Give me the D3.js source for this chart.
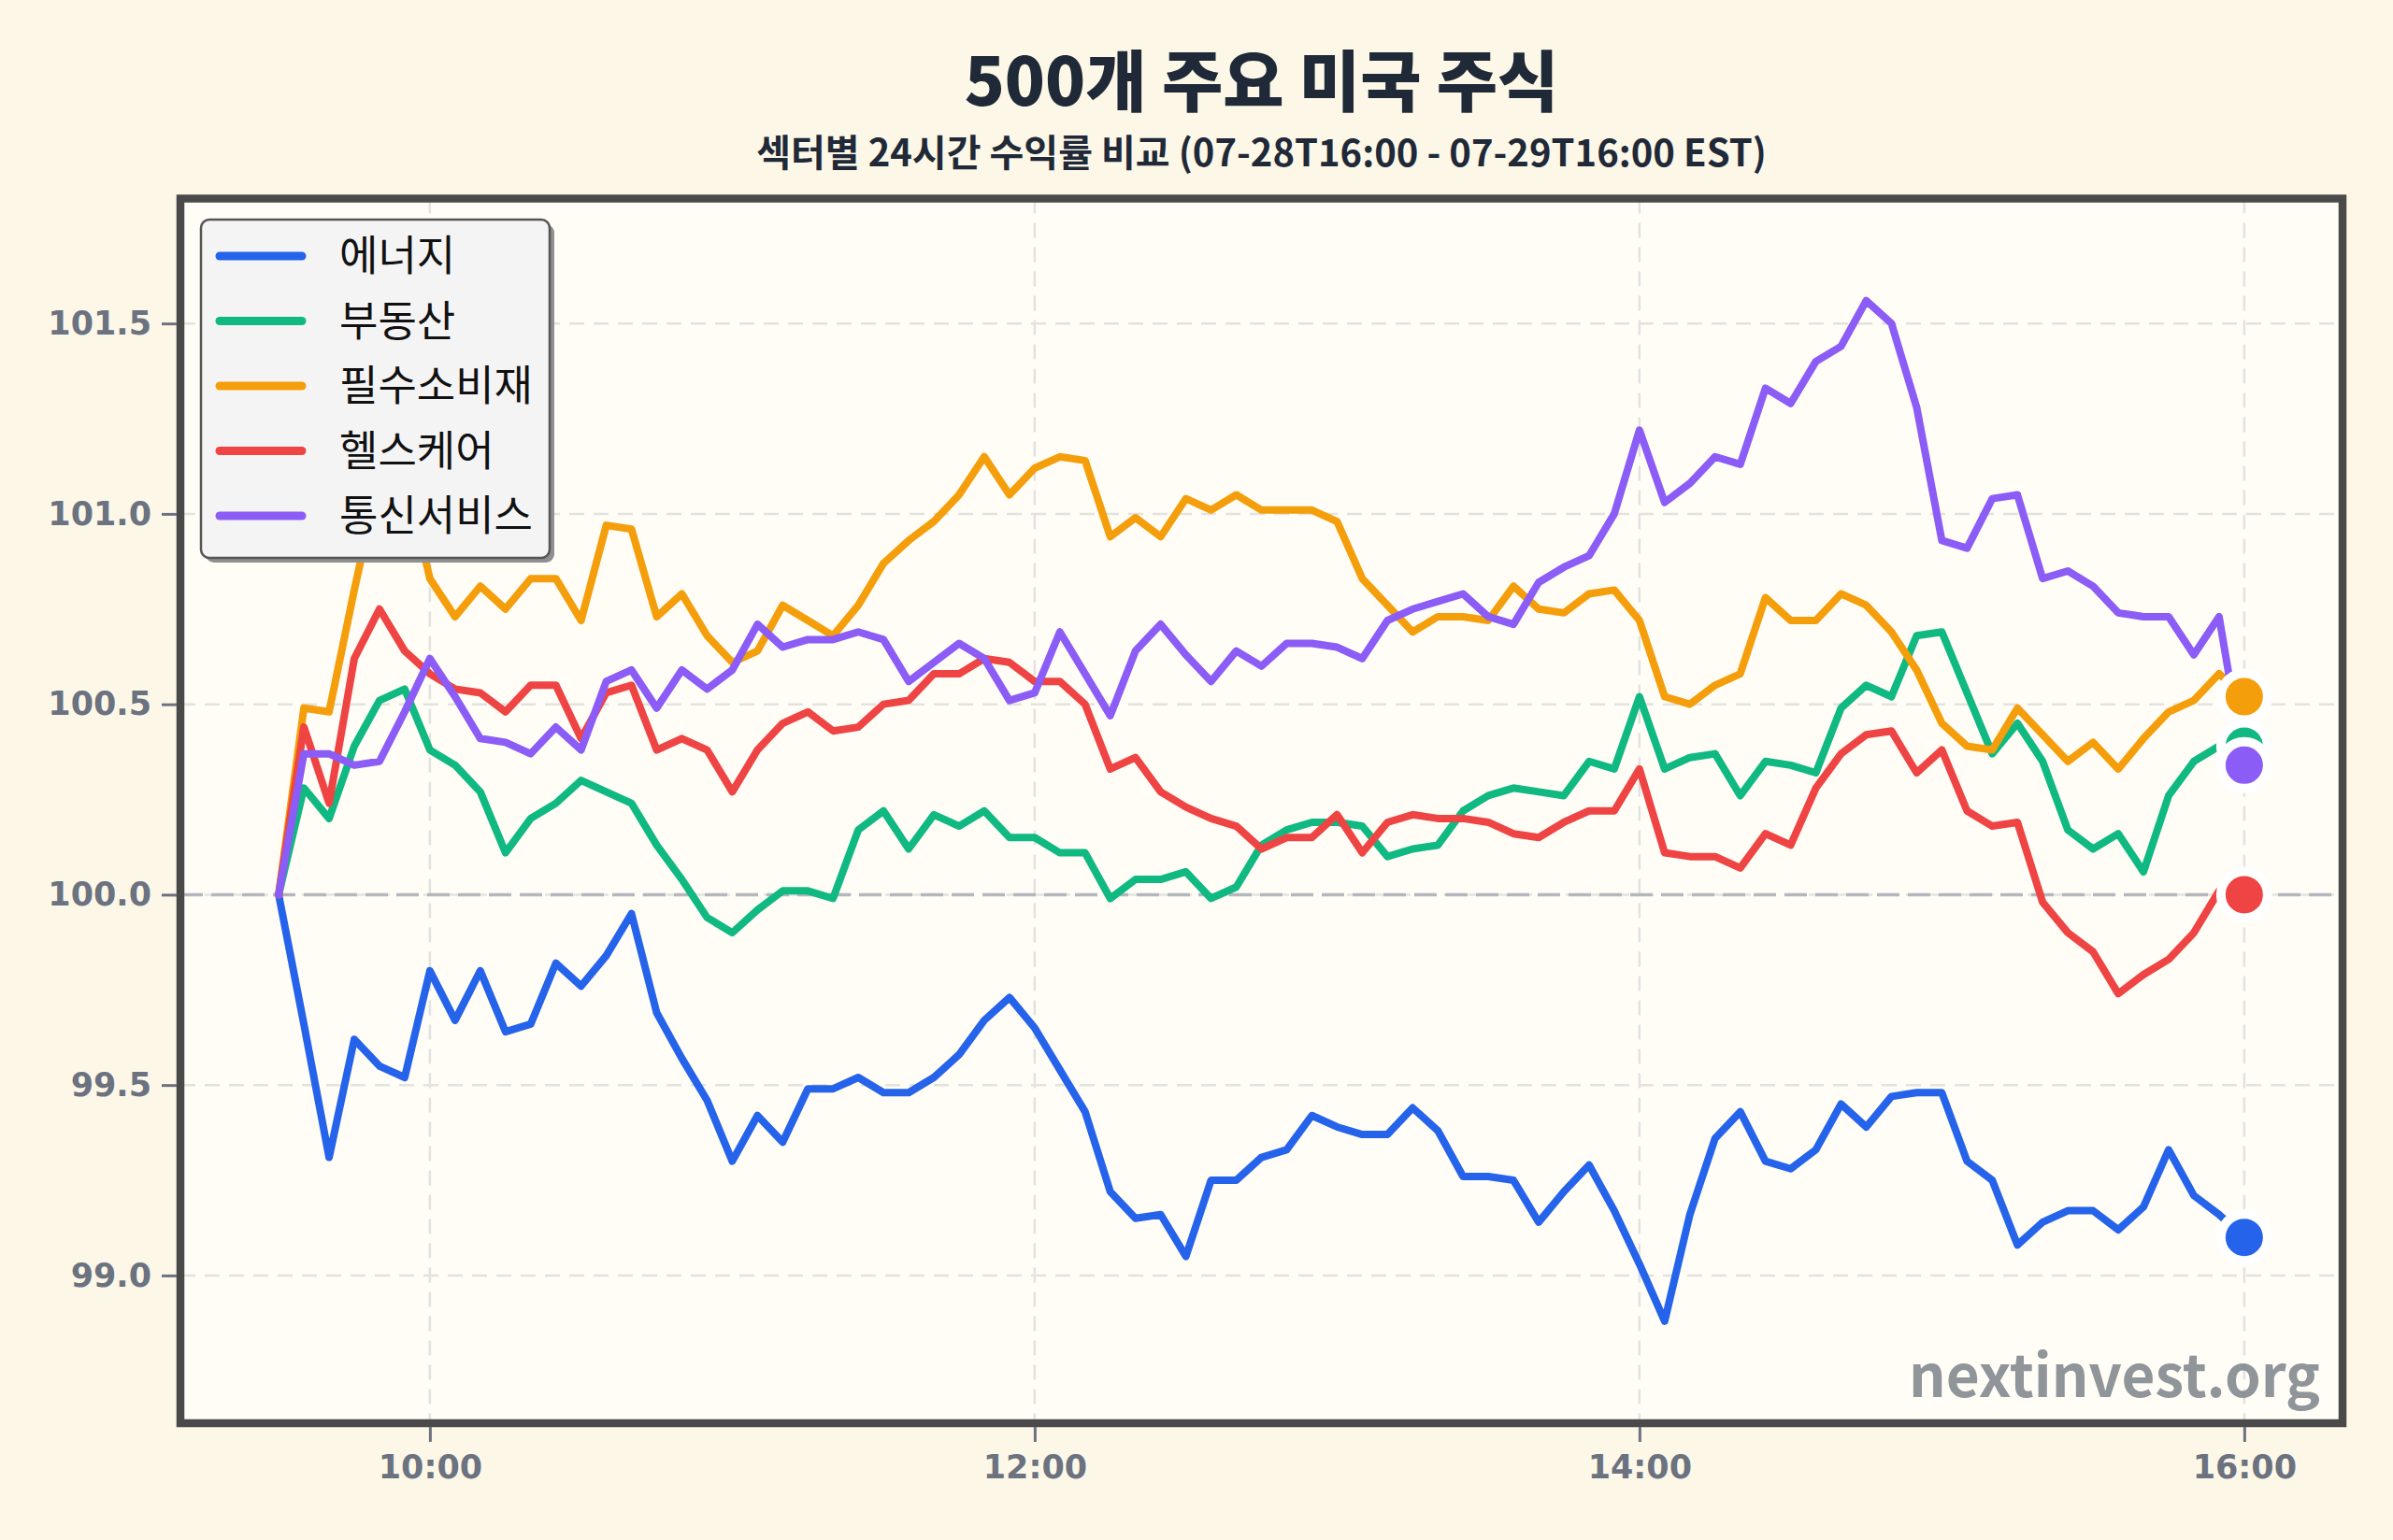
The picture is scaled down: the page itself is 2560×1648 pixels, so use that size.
<!DOCTYPE html>
<html>
<head>
<meta charset="utf-8">
<script src="https://cdn.jsdelivr.net/npm/d3@7"></script>
<style>
  html, body { margin: 0; padding: 0; background: #fdf7e7; }
  svg { display: block; }
</style>
</head>
<body>
<div id="chart"></div>
<script>
// 5-minute closes, indexed to 100 at 09:30
var times = ["09:30","09:35","09:40","09:45","09:50","09:55","10:00","10:05","10:10","10:15","10:20","10:25",
  "10:30","10:35","10:40","10:45","10:50","10:55","11:00","11:05","11:10","11:15","11:20","11:25",
  "11:30","11:35","11:40","11:45","11:50","11:55","12:00","12:05","12:10","12:15","12:20","12:25",
  "12:30","12:35","12:40","12:45","12:50","12:55","13:00","13:05","13:10","13:15","13:20","13:25",
  "13:30","13:35","13:40","13:45","13:50","13:55","14:00","14:05","14:10","14:15","14:20","14:25",
  "14:30","14:35","14:40","14:45","14:50","14:55","15:00","15:05","15:10","15:15","15:20","15:25",
  "15:30","15:35","15:40","15:45","15:50","15:55","16:00"];

var energy = [100.00,99.66,99.31,99.62,99.55,99.52,99.80,99.67,99.80,99.64,99.66,99.82,
  99.76,99.84,99.95,99.69,99.57,99.46,99.30,99.42,99.35,99.49,99.49,99.52,
  99.48,99.48,99.52,99.58,99.67,99.73,99.65,99.54,99.43,99.22,99.15,99.16,
  99.05,99.25,99.25,99.31,99.33,99.42,99.39,99.37,99.37,99.44,99.38,99.26,
  99.26,99.25,99.14,99.22,99.29,99.17,99.03,98.88,99.16,99.36,99.43,99.30,
  99.28,99.33,99.45,99.39,99.47,99.48,99.48,99.30,99.25,99.08,99.14,99.17,
  99.17,99.12,99.18,99.33,99.21,99.16,99.10];

var realEstate = [100.00,100.28,100.20,100.39,100.51,100.54,100.38,100.34,100.27,100.11,100.20,100.24,
  100.30,100.27,100.24,100.13,100.04,99.94,99.90,99.96,100.01,100.01,99.99,100.17,
  100.22,100.12,100.21,100.18,100.22,100.15,100.15,100.11,100.11,99.99,100.04,100.04,
  100.06,99.99,100.02,100.13,100.17,100.19,100.19,100.18,100.10,100.12,100.13,100.22,
  100.26,100.28,100.27,100.26,100.35,100.33,100.52,100.33,100.36,100.37,100.26,100.35,
  100.34,100.32,100.49,100.55,100.52,100.68,100.69,100.53,100.37,100.45,100.35,100.17,
  100.12,100.16,100.06,100.26,100.35,100.39,100.39];

var staples = [100.00,100.49,100.48,100.80,101.10,101.11,100.83,100.73,100.81,100.75,100.83,100.83,
  100.72,100.97,100.96,100.73,100.79,100.68,100.61,100.64,100.76,100.72,100.68,100.76,
  100.87,100.93,100.98,101.05,101.15,101.05,101.12,101.15,101.14,100.94,100.99,100.94,
  101.04,101.01,101.05,101.01,101.01,101.01,100.98,100.83,100.76,100.69,100.73,100.73,
  100.72,100.81,100.75,100.74,100.79,100.80,100.72,100.52,100.50,100.55,100.58,100.78,
  100.72,100.72,100.79,100.76,100.69,100.59,100.45,100.39,100.38,100.49,100.42,100.35,
  100.40,100.33,100.41,100.48,100.51,100.58,100.52];

var healthcare = [100.00,100.44,100.24,100.62,100.75,100.64,100.58,100.54,100.53,100.48,100.55,100.55,
  100.41,100.53,100.55,100.38,100.41,100.38,100.27,100.38,100.45,100.48,100.43,100.44,
  100.50,100.51,100.58,100.58,100.62,100.61,100.56,100.56,100.50,100.33,100.36,100.27,
  100.23,100.20,100.18,100.12,100.15,100.15,100.21,100.11,100.19,100.21,100.20,100.20,
  100.19,100.16,100.15,100.19,100.22,100.22,100.33,100.11,100.10,100.10,100.07,100.16,
  100.13,100.28,100.37,100.42,100.43,100.32,100.38,100.22,100.18,100.19,99.98,99.90,
  99.85,99.74,99.79,99.83,99.90,100.01,100.00];

var telecom = [100.00,100.37,100.37,100.34,100.35,100.48,100.62,100.52,100.41,100.40,100.37,100.44,
  100.38,100.56,100.59,100.49,100.59,100.54,100.59,100.71,100.65,100.67,100.67,100.69,
  100.67,100.56,100.61,100.66,100.62,100.51,100.53,100.69,100.58,100.47,100.64,100.71,
  100.63,100.56,100.64,100.60,100.66,100.66,100.65,100.62,100.72,100.75,100.77,100.79,
  100.73,100.71,100.82,100.86,100.89,101.00,101.22,101.03,101.08,101.15,101.13,101.33,
  101.29,101.40,101.44,101.56,101.50,101.28,100.93,100.91,101.04,101.05,100.83,100.85,
  100.81,100.74,100.73,100.73,100.63,100.73,100.34];

var sectorNames = ["에너지", "부동산", "필수소비재", "헬스케어", "통신서비스"];
var sectorValues = [energy, realEstate, staples, healthcare, telecom];
var sectorColors = ["#2563eb", "#10b981", "#f59e0b", "#ef4444", "#8b5cf6"];

var yTicks = [99.0, 99.5, 100.0, 100.5, 101.0, 101.5];
var xTickLabels = ["10:00", "12:00", "14:00", "16:00"];

var titleText = "500개 주요 미국 주식";
var subtitleText = "섹터별 24시간 수익률 비교 (07-28T16:00 - 07-29T16:00 EST)";
var watermark = "nextinvest.org";

var width = 2560;
var height = 1648;
var plot = { left: 193, top: 212.5, right: 2506, bottom: 1523 };
var korean = "'Noto Sans CJK KR', 'Noto Sans', sans-serif";
var tickFont = "'DejaVu Sans', sans-serif";

var parseTime = d3.timeParse("%H:%M");
var dates = times.map(parseTime);

var series = sectorNames.map(function (name, k) {
    return {
        name: name,
        color: sectorColors[k],
        points: sectorValues[k].map(function (v, i) { return { t: dates[i], v: v }; })
    };
});

// matplotlib-style padding: 5% in x, 10% in y
var t0 = dates[0], t1 = dates[dates.length - 1];
var pad = (t1 - t0) * 0.05;
var x = d3.scaleTime()
    .domain([new Date(+t0 - pad), new Date(+t1 + pad)])
    .range([plot.left, plot.right]);

var allValues = d3.merge(sectorValues);
var vmin = d3.min(allValues), vmax = d3.max(allValues);
var vpad = (vmax - vmin) * 0.1;
var y = d3.scaleLinear()
    .domain([vmin - vpad, vmax + vpad])
    .range([plot.bottom, plot.top]);

var svg = d3.select('#chart')
    .append('svg')
    .attr('width', width)
    .attr('height', height);

svg.append('rect')
    .attr('width', width)
    .attr('height', height)
    .attr('fill', '#fdf7e7');

svg.append('defs').append('clipPath')
    .attr('id', 'plot-clip')
    .append('rect')
    .attr('x', plot.left)
    .attr('y', plot.top)
    .attr('width', plot.right - plot.left)
    .attr('height', plot.bottom - plot.top);

svg.append('rect')
    .attr('x', plot.left)
    .attr('y', plot.top)
    .attr('width', plot.right - plot.left)
    .attr('height', plot.bottom - plot.top)
    .attr('fill', '#fffdf6');

var xTickDates = xTickLabels.map(parseTime);

// grid
var grid = svg.append('g').attr('clip-path', 'url(#plot-clip)');
grid.selectAll('.hgrid')
    .data(yTicks)
    .enter()
    .append('line')
    .attr('x1', plot.left)
    .attr('x2', plot.right)
    .attr('y1', function (d) { return y(d); })
    .attr('y2', function (d) { return y(d); })
    .attr('stroke', '#e2e2e0')
    .attr('stroke-width', 2.5)
    .attr('stroke-dasharray', '16,10');

grid.selectAll('.vgrid')
    .data(xTickDates)
    .enter()
    .append('line')
    .attr('x1', function (d) { return x(d); })
    .attr('x2', function (d) { return x(d); })
    .attr('y1', plot.top)
    .attr('y2', plot.bottom)
    .attr('stroke', '#e2e2e0')
    .attr('stroke-width', 2.5)
    .attr('stroke-dasharray', '16,10');

// baseline at 100
grid.append('line')
    .attr('x1', plot.left)
    .attr('x2', plot.right)
    .attr('y1', y(100))
    .attr('y2', y(100))
    .attr('stroke', '#b4b7bd')
    .attr('stroke-width', 3.5)
    .attr('stroke-dasharray', '24,9');

var line = d3.line()
    .x(function (d) { return x(d.t); })
    .y(function (d) { return y(d.v); });

var lines = svg.append('g').attr('clip-path', 'url(#plot-clip)');
lines.selectAll('path')
    .data(series)
    .enter()
    .append('path')
    .attr('d', function (d) { return line(d.points); })
    .attr('fill', 'none')
    .attr('stroke', function (d) { return d.color; })
    .attr('stroke-width', 8)
    .attr('stroke-linejoin', 'round')
    .attr('stroke-linecap', 'round');

// end markers
lines.selectAll('circle')
    .data(series)
    .enter()
    .append('circle')
    .attr('cx', function (d) { return x(d.points[d.points.length - 1].t); })
    .attr('cy', function (d) { return y(d.points[d.points.length - 1].v); })
    .attr('r', 25)
    .attr('fill', function (d) { return d.color; })
    .attr('stroke', '#ffffff')
    .attr('stroke-width', 10);

// frame
svg.append('rect')
    .attr('x', plot.left)
    .attr('y', plot.top)
    .attr('width', plot.right - plot.left)
    .attr('height', plot.bottom - plot.top)
    .attr('fill', 'none')
    .attr('stroke', '#4a4a4a')
    .attr('stroke-width', 8.5);

// axes
var yAxis = svg.append('g')
    .attr('transform', 'translate(' + (plot.left - 4) + ',0)')
    .call(d3.axisLeft(y).tickValues(yTicks).tickFormat(d3.format('.1f')).tickSize(16).tickPadding(11).tickSizeOuter(0));
var xAxis = svg.append('g')
    .attr('transform', 'translate(0,' + (plot.bottom + 4) + ')')
    .call(d3.axisBottom(x).tickValues(xTickDates).tickFormat(function (d, i) { return xTickLabels[i]; })
        .tickSize(16).tickPadding(14).tickSizeOuter(0));

[yAxis, xAxis].forEach(function (ax) {
    ax.select('.domain').remove();
    ax.selectAll('.tick line').attr('stroke', '#6b7280').attr('stroke-width', 3);
    ax.selectAll('.tick text')
        .attr('fill', '#6b7280')
        .style('font-family', tickFont)
        .style('font-weight', 'bold')
        .style('font-size', '35px');
});

// legend
var legend = svg.append('g').attr('transform', 'translate(215,235)');
legend.append('rect')
    .attr('x', 5).attr('y', 5)
    .attr('width', 373).attr('height', 362)
    .attr('rx', 9)
    .attr('fill', '#8f8f8f');
legend.append('rect')
    .attr('width', 373).attr('height', 362)
    .attr('rx', 9)
    .attr('fill', '#f4f4f5')
    .attr('stroke', '#555555')
    .attr('stroke-width', 2.5);

var item = legend.selectAll('.item')
    .data(series)
    .enter()
    .append('g')
    .attr('class', 'item')
    .attr('transform', function (d, i) { return 'translate(0,' + (39 + i * 69.5) + ')'; });
item.append('line')
    .attr('x1', 20).attr('x2', 108)
    .attr('stroke', function (d) { return d.color; })
    .attr('stroke-width', 9)
    .attr('stroke-linecap', 'round');
item.append('text')
    .attr('x', 148)
    .attr('dy', '0.36em')
    .attr('fill', '#111111')
    .style('font-family', korean)
    .style('font-size', '45px')
    .text(function (d) { return d.name; });

// titles
var cx = (plot.left + plot.right) / 2;
svg.append('text')
    .attr('x', cx)
    .attr('y', 113)
    .attr('text-anchor', 'middle')
    .attr('fill', '#1f2937')
    .style('font-family', korean)
    .style('font-weight', 900)
    .style('font-size', '71px')
    .text(titleText);
svg.append('text')
    .attr('x', cx)
    .attr('y', 178)
    .attr('text-anchor', 'middle')
    .attr('fill', '#1f2937')
    .style('font-family', korean)
    .style('font-weight', 'bold')
    .style('font-size', '40px')
    .text(subtitleText);

svg.append('text')
    .attr('x', 2482)
    .attr('y', 1495)
    .attr('text-anchor', 'end')
    .attr('fill', '#7d8389')
    .attr('fill-opacity', 0.85)
    .style('font-family', korean)
    .style('font-weight', 'bold')
    .style('font-size', '62px')
    .text(watermark);
</script>
</body>
</html>
